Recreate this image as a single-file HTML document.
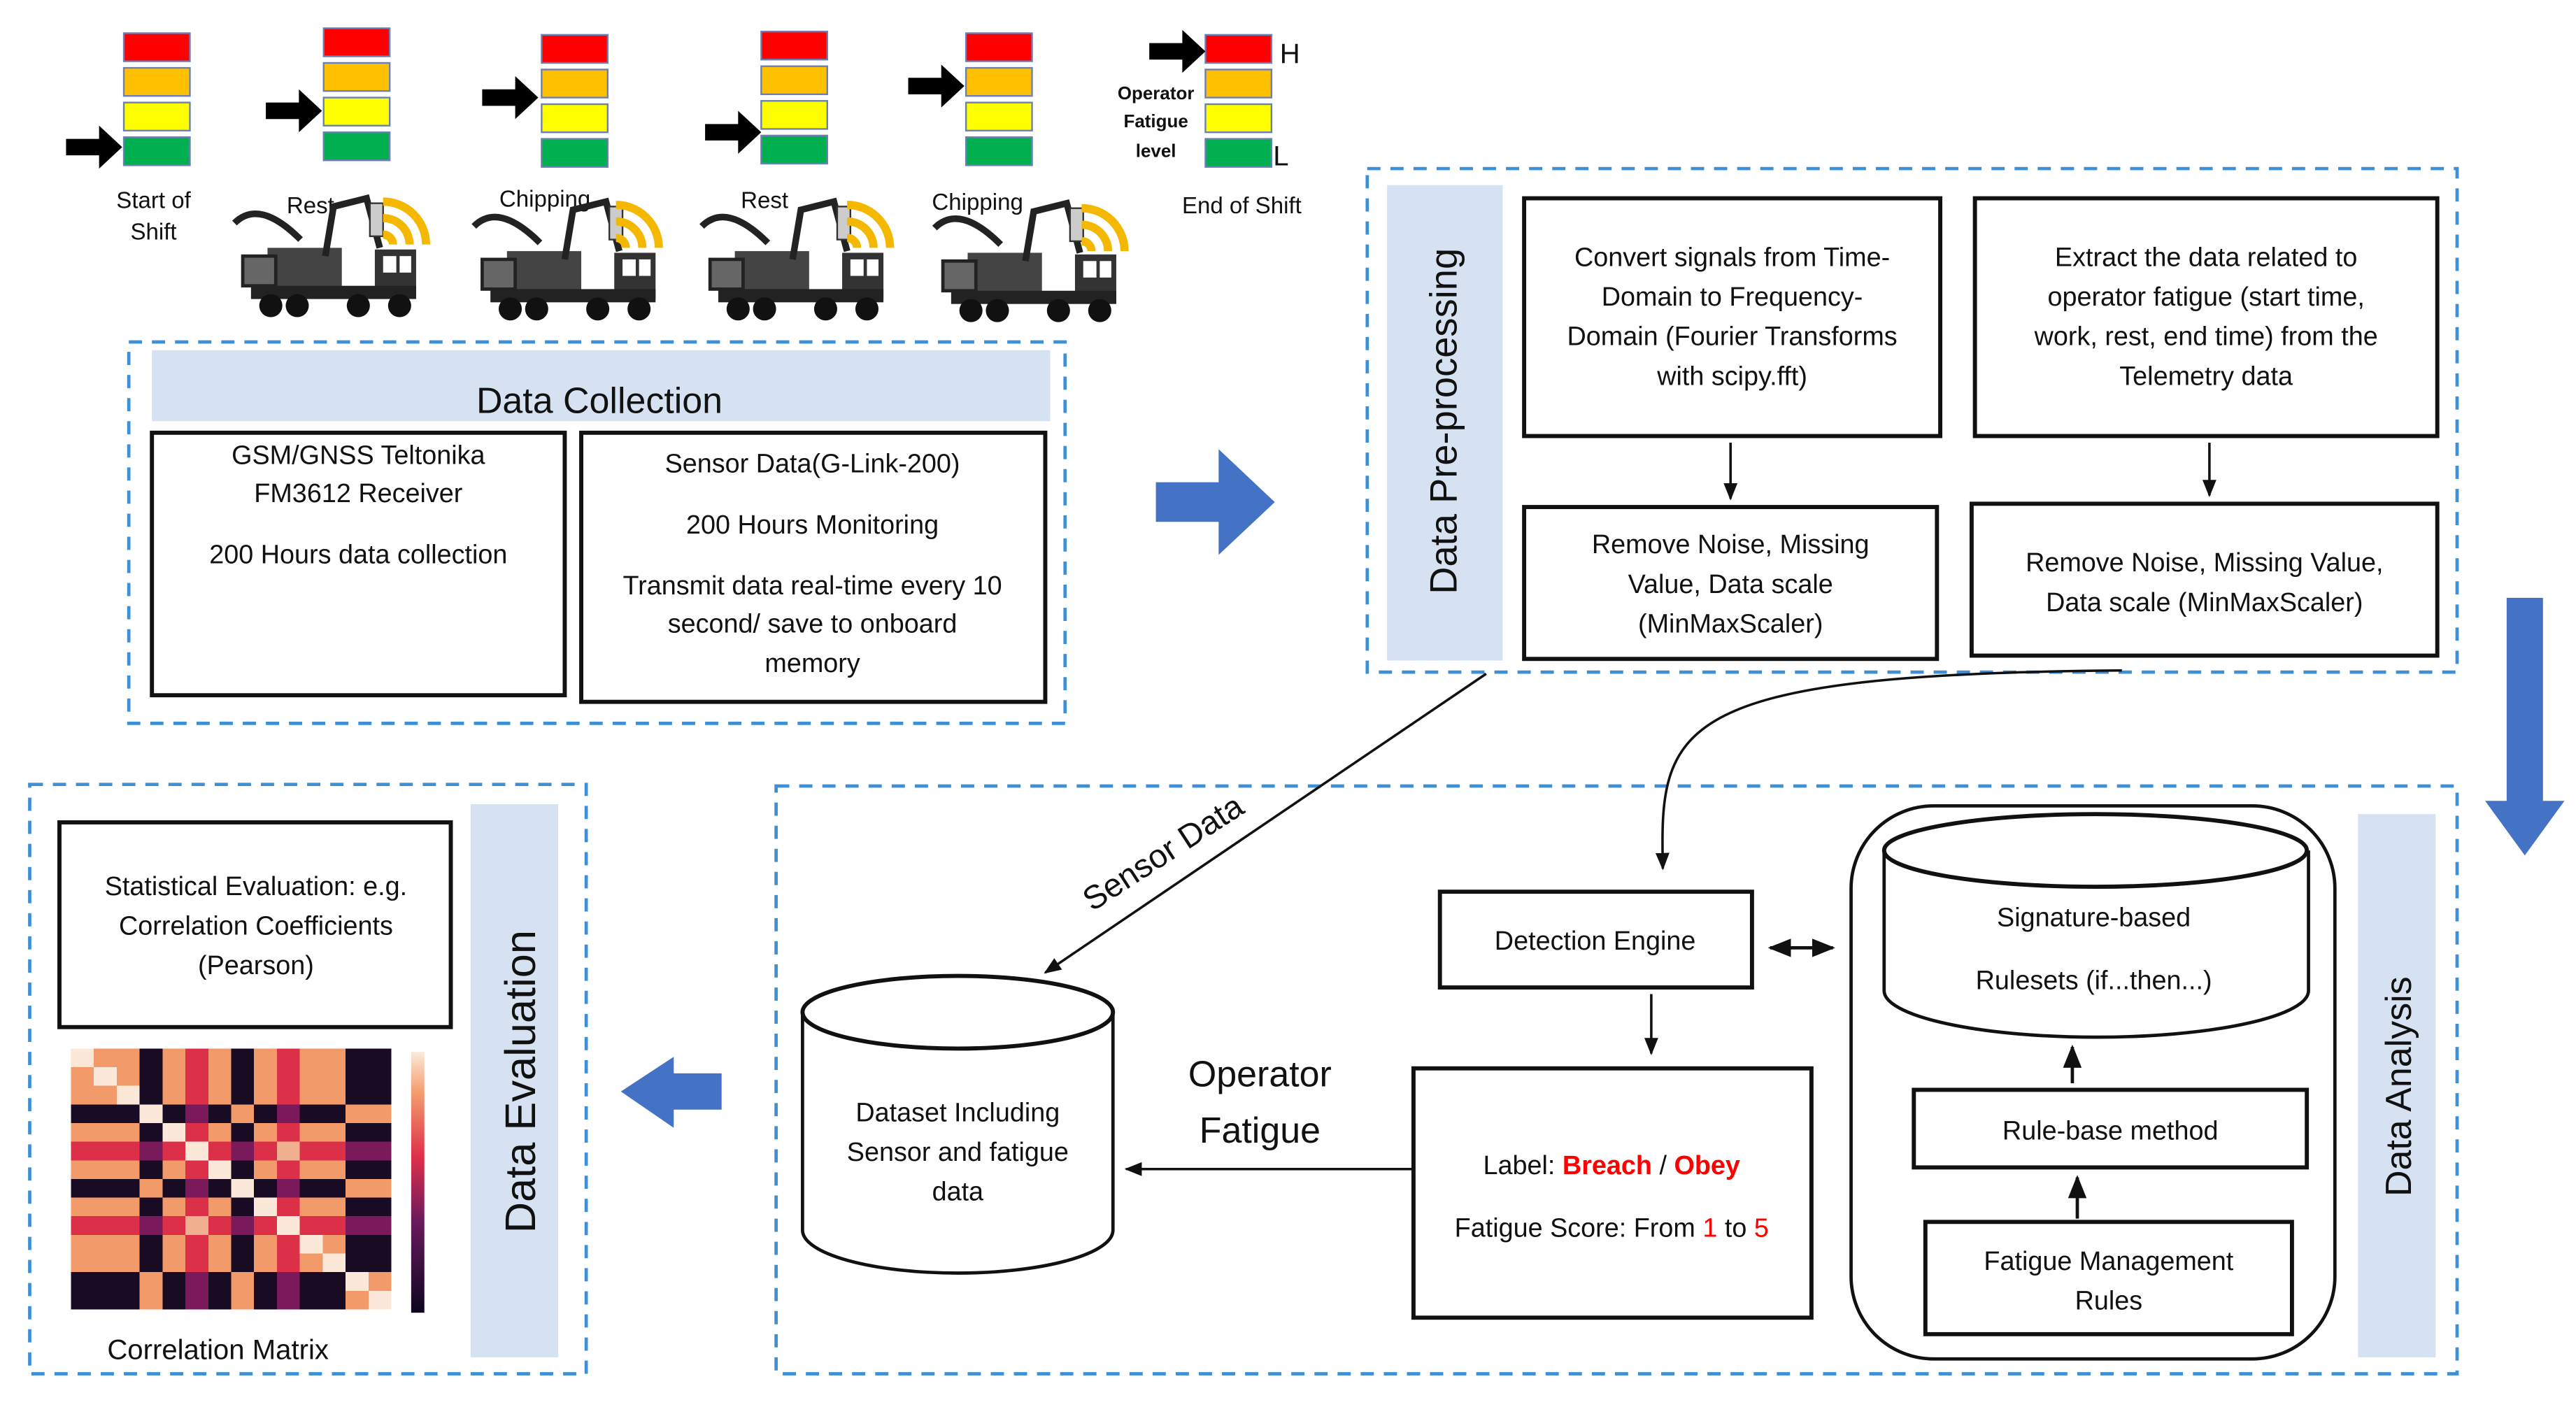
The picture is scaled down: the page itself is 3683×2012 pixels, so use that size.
<!DOCTYPE html>
<html><head><meta charset="utf-8"><style>html,body{margin:0;padding:0;background:#fff}svg{display:block}text{font-family:"Liberation Sans",sans-serif;fill:#111}</style></head>
<body>
<svg width="3683" height="2012" viewBox="0 0 1560 852" xmlns="http://www.w3.org/2000/svg">
<defs>
<marker id="ah" viewBox="0 0 10 10" refX="9" refY="5" markerWidth="7" markerHeight="7" orient="auto-start-reverse"><path d="M0,1 L10,5 L0,9 z" fill="#111"/></marker>
<g id="meter">
<rect x="0" y="0" width="40" height="17" fill="#ff0000" stroke="#6b7fb5" stroke-width="1"/>
<rect x="0" y="21" width="40" height="17" fill="#ffc000" stroke="#6b7fb5" stroke-width="1"/>
<rect x="0" y="42" width="40" height="17" fill="#ffff00" stroke="#6b7fb5" stroke-width="1"/>
<rect x="0" y="63" width="40" height="17" fill="#00b050" stroke="#6b7fb5" stroke-width="1"/>
</g>
<path id="barr" d="M0,-5 L20,-5 L20,-13 L34,0 L20,13 L20,5 L0,5 z" fill="#000"/>
<g id="truck">
<path d="M0,20 Q15,5 40,30" stroke="#222" stroke-width="4" fill="none"/>
<rect x="20" y="35" width="45" height="25" fill="#444"/>
<rect x="5" y="40" width="20" height="18" fill="#666" stroke="#222" stroke-width="2"/>
<path d="M55,40 L60,10 L80,5 L88,35" stroke="#222" stroke-width="4" fill="none"/>
<rect x="82" y="8" width="8" height="20" fill="#ccc" stroke="#333"/>
<rect x="85" y="36" width="25" height="28" fill="#333"/>
<rect x="90" y="40" width="8" height="10" fill="#fff"/><rect x="100" y="40" width="7" height="10" fill="#fff"/>
<rect x="10" y="58" width="100" height="8" fill="#222"/>
<circle cx="22" cy="70" r="7" fill="#111"/><circle cx="38" cy="70" r="7" fill="#111"/><circle cx="75" cy="70" r="7" fill="#111"/><circle cx="100" cy="70" r="7" fill="#111"/>
</g>
<g id="wifi" fill="none" stroke="#f5b800" stroke-width="5">
<path d="M0,22 A6,6 0 0 1 6,28"/><path d="M0,12 A16,16 0 0 1 16,28"/><path d="M0,2 A26,26 0 0 1 26,28"/>
</g>
<linearGradient id="cb" x1="0" y1="1" x2="0" y2="0"><stop offset="0" stop-color="#0d0520"/><stop offset="0.35" stop-color="#6a1a5e"/><stop offset="0.6" stop-color="#e0304a"/><stop offset="0.85" stop-color="#f4a070"/><stop offset="1" stop-color="#fbeadc"/></linearGradient>
</defs>

<!-- meters -->
<use href="#meter" x="75" y="20"/><use href="#barr" x="40" y="89"/>
<use href="#meter" x="196" y="17"/><use href="#barr" x="161" y="67"/>
<use href="#meter" x="328" y="21"/><use href="#barr" x="292" y="59"/>
<use href="#meter" x="461" y="19"/><use href="#barr" x="427" y="80"/>
<use href="#meter" x="585" y="20"/><use href="#barr" x="550" y="52"/>
<use href="#meter" x="730" y="21"/><use href="#barr" x="696" y="31"/>
<text x="775" y="38" font-size="17">H</text><text x="771" y="100" font-size="17">L</text>
<g font-size="11" font-weight="bold" text-anchor="middle"><text x="700" y="60">Operator</text><text x="700" y="77">Fatigue</text><text x="700" y="95">level</text></g>
<g font-size="14" text-anchor="middle">
<text x="93" y="126">Start of</text><text x="93" y="145">Shift</text>
<text x="188" y="129">Rest</text><text x="330" y="125">Chipping</text>
<text x="463" y="126">Rest</text><text x="592" y="127">Chipping</text>
<text x="752" y="129">End of Shift</text>
</g>
<use href="#truck" x="142" y="115"/><use href="#wifi" x="232" y="120"/>
<use href="#truck" x="287" y="117"/><use href="#wifi" x="373" y="122"/>
<use href="#truck" x="425" y="117"/><use href="#wifi" x="513" y="122"/>
<use href="#truck" x="566" y="118"/><use href="#wifi" x="655" y="124"/>

<!-- Data collection -->
<rect x="78" y="207" width="567" height="231" fill="none" stroke="#3d8fd6" stroke-width="2" stroke-dasharray="8,6"/>
<rect x="92" y="212" width="544" height="43" fill="#d6e2f2"/>
<text x="363" y="250" font-size="22" text-anchor="middle">Data Collection</text>
<rect x="92" y="262" width="250" height="159" fill="#fff" stroke="#111" stroke-width="2.5"/>
<rect x="352" y="262" width="281" height="163" fill="#fff" stroke="#111" stroke-width="2.5"/>
<g font-size="16" text-anchor="middle">
<text x="217" y="281">GSM/GNSS Teltonika</text><text x="217" y="304">FM3612 Receiver</text><text x="217" y="341">200 Hours data collection</text>
<text x="492" y="286">Sensor Data(G-Link-200)</text><text x="492" y="323">200 Hours Monitoring</text>
<text x="492" y="360">Transmit data real-time every 10</text><text x="492" y="383">second/ save to onboard</text><text x="492" y="407">memory</text>
</g>
<path d="M700,292 L738,292 L738,272 L772,304 L738,336 L738,316 L700,316 z" fill="#4472c4"/>

<!-- Pre-processing -->
<rect x="828" y="102" width="660" height="305" fill="none" stroke="#3d8fd6" stroke-width="2" stroke-dasharray="8,6"/>
<rect x="840" y="112" width="70" height="288" fill="#d6e2f2"/>
<text transform="translate(882,255) rotate(-90)" font-size="23" text-anchor="middle">Data Pre-processing</text>
<rect x="923" y="120" width="252" height="144" fill="#fff" stroke="#111" stroke-width="2.5"/>
<rect x="1196" y="120" width="280" height="144" fill="#fff" stroke="#111" stroke-width="2.5"/>
<rect x="923" y="307" width="250" height="92" fill="#fff" stroke="#111" stroke-width="2.5"/>
<rect x="1194" y="305" width="282" height="92" fill="#fff" stroke="#111" stroke-width="2.5"/>
<g font-size="16" text-anchor="middle">
<text x="1049" y="161">Convert signals from Time-</text><text x="1049" y="185">Domain to Frequency-</text><text x="1049" y="209">Domain (Fourier Transforms</text><text x="1049" y="233">with scipy.fft)</text>
<text x="1336" y="161">Extract the data related to</text><text x="1336" y="185">operator fatigue (start time,</text><text x="1336" y="209">work, rest, end time) from the</text><text x="1336" y="233">Telemetry data</text>
<text x="1048" y="335">Remove Noise, Missing</text><text x="1048" y="359">Value, Data scale</text><text x="1048" y="383">(MinMaxScaler)</text>
<text x="1335" y="346">Remove Noise, Missing Value,</text><text x="1335" y="370">Data scale (MinMaxScaler)</text>
</g>
<line x1="1048" y1="268" x2="1048" y2="302" stroke="#111" stroke-width="1.5" marker-end="url(#ah)"/>
<line x1="1338" y1="268" x2="1338" y2="300" stroke="#111" stroke-width="1.5" marker-end="url(#ah)"/>
<path d="M1518,362 L1540,362 L1540,485 L1553,485 L1529,518 L1505,485 L1518,485 z" fill="#4472c4"/>

<!-- Data analysis -->
<rect x="470" y="476" width="1018" height="356" fill="none" stroke="#3d8fd6" stroke-width="2" stroke-dasharray="8,6"/>
<rect x="1428" y="493" width="47" height="329" fill="#d6e2f2"/>
<text transform="translate(1460,658) rotate(-90)" font-size="22" text-anchor="middle">Data Analysis</text>
<rect x="1121" y="488" width="293" height="335" rx="50" fill="none" stroke="#111" stroke-width="2"/>
<path d="M1141,515 L1141,600 A128,28 0 0 0 1398,600 L1398,515" fill="#fff" stroke="#111" stroke-width="2"/>
<ellipse cx="1269" cy="515" rx="128" ry="22" fill="#fff" stroke="#111" stroke-width="2.5"/>
<g font-size="16" text-anchor="middle"><text x="1268" y="561">Signature-based</text><text x="1268" y="599">Rulesets (if...then...)</text></g>
<rect x="1159" y="660" width="238" height="47" fill="#fff" stroke="#111" stroke-width="2.5"/>
<text x="1278" y="690" font-size="16" text-anchor="middle">Rule-base method</text>
<rect x="1166" y="740" width="222" height="68" fill="#fff" stroke="#111" stroke-width="2.5"/>
<g font-size="16" text-anchor="middle"><text x="1277" y="769">Fatigue Management</text><text x="1277" y="793">Rules</text></g>
<line x1="1255" y1="656" x2="1255" y2="634" stroke="#111" stroke-width="2" marker-end="url(#ah)"/>
<line x1="1258" y1="738" x2="1258" y2="713" stroke="#111" stroke-width="2" marker-end="url(#ah)"/>
<rect x="872" y="540" width="189" height="58" fill="#fff" stroke="#111" stroke-width="2.5"/>
<text x="966" y="575" font-size="16" text-anchor="middle">Detection Engine</text>
<line x1="1072" y1="574" x2="1110" y2="574" stroke="#111" stroke-width="2" marker-start="url(#ah)" marker-end="url(#ah)"/>
<line x1="1000" y1="602" x2="1000" y2="638" stroke="#111" stroke-width="1.5" marker-end="url(#ah)"/>
<rect x="856" y="647" width="241" height="151" fill="#fff" stroke="#111" stroke-width="2.5"/>
<text x="976" y="711" font-size="16" text-anchor="middle">Label: <tspan fill="#ff0000" font-weight="bold">Breach</tspan> / <tspan fill="#ff0000" font-weight="bold">Obey</tspan></text>
<text x="976" y="749" font-size="16" text-anchor="middle">Fatigue Score: From <tspan fill="#ff0000">1</tspan> to <tspan fill="#ff0000">5</tspan></text>
<path d="M486,613 L486,745 A94,26 0 0 0 674,745 L674,613" fill="#fff" stroke="#111" stroke-width="2"/>
<ellipse cx="580" cy="613" rx="94" ry="22" fill="#fff" stroke="#111" stroke-width="2.5"/>
<g font-size="16" text-anchor="middle"><text x="580" y="679">Dataset Including</text><text x="580" y="703">Sensor and fatigue</text><text x="580" y="727">data</text></g>
<line x1="856" y1="708" x2="682" y2="708" stroke="#111" stroke-width="1.5" marker-end="url(#ah)"/>
<g font-size="22" text-anchor="middle"><text x="763" y="658">Operator</text><text x="763" y="692">Fatigue</text></g>
<line x1="900" y1="408" x2="633" y2="589" stroke="#111" stroke-width="1.5" marker-end="url(#ah)"/>
<text transform="translate(708,522) rotate(-33)" font-size="20" text-anchor="middle">Sensor Data</text>
<path d="M1285,406 C1010,408 1005,440 1007,526" fill="none" stroke="#111" stroke-width="1.5" marker-end="url(#ah)"/>
<path d="M437,650 L408,650 L408,640 L376,661 L408,683 L408,672 L437,672 z" fill="#4472c4"/>

<!-- Data evaluation -->
<rect x="18" y="475" width="337" height="357" fill="none" stroke="#3d8fd6" stroke-width="2" stroke-dasharray="8,6"/>
<rect x="285" y="487" width="53" height="335" fill="#d6e2f2"/>
<text transform="translate(324,655) rotate(-90)" font-size="26" text-anchor="middle">Data Evaluation</text>
<rect x="36" y="498" width="237" height="124" fill="#fff" stroke="#111" stroke-width="2.5"/>
<g font-size="16" text-anchor="middle"><text x="155" y="542">Statistical Evaluation: e.g.</text><text x="155" y="566">Correlation Coefficients</text><text x="155" y="590">(Pearson)</text></g>

<svg x="43" y="635" width="194" height="158" viewBox="0 0 14 14" preserveAspectRatio="none" shape-rendering="crispEdges">
<rect x="0" y="0" width="14" height="14" fill="#1a0b24"/>
<g fill="#f29a6a">
<rect x="0" y="0" width="3" height="3"/><rect x="4" y="0" width="1" height="3"/><rect x="6" y="0" width="1" height="3"/><rect x="8" y="0" width="1" height="3"/><rect x="10" y="0" width="2" height="3"/>
<rect x="0" y="4" width="3" height="1"/><rect x="4" y="4" width="1" height="1"/><rect x="6" y="4" width="1" height="1"/><rect x="8" y="4" width="1" height="1"/><rect x="10" y="4" width="2" height="1"/>
<rect x="0" y="6" width="3" height="1"/><rect x="4" y="6" width="1" height="1"/><rect x="6" y="6" width="1" height="1"/><rect x="8" y="6" width="1" height="1"/><rect x="10" y="6" width="2" height="1"/>
<rect x="0" y="8" width="3" height="1"/><rect x="4" y="8" width="1" height="1"/><rect x="6" y="8" width="1" height="1"/><rect x="8" y="8" width="1" height="1"/><rect x="10" y="8" width="2" height="1"/>
<rect x="0" y="10" width="3" height="2"/><rect x="4" y="10" width="1" height="2"/><rect x="6" y="10" width="1" height="2"/><rect x="8" y="10" width="1" height="2"/><rect x="10" y="10" width="2" height="2"/>
<rect x="3" y="3" width="1" height="1"/><rect x="7" y="3" width="1" height="1"/><rect x="12" y="3" width="2" height="1"/>
<rect x="3" y="7" width="1" height="1"/><rect x="7" y="7" width="1" height="1"/><rect x="12" y="7" width="2" height="1"/>
<rect x="3" y="12" width="1" height="2"/><rect x="7" y="12" width="1" height="2"/><rect x="12" y="12" width="2" height="2"/>
</g>
<g fill="#dc3048"><rect x="0" y="5" width="14" height="1"/><rect x="0" y="9" width="14" height="1"/><rect x="5" y="0" width="1" height="14"/><rect x="9" y="0" width="1" height="14"/></g>
<g fill="#7a1a5a">
<rect x="3" y="5" width="1" height="1"/><rect x="7" y="5" width="1" height="1"/><rect x="12" y="5" width="2" height="1"/>
<rect x="3" y="9" width="1" height="1"/><rect x="7" y="9" width="1" height="1"/><rect x="12" y="9" width="2" height="1"/>
<rect x="5" y="3" width="1" height="1"/><rect x="5" y="7" width="1" height="1"/><rect x="5" y="12" width="1" height="2"/>
<rect x="9" y="3" width="1" height="1"/><rect x="9" y="7" width="1" height="1"/><rect x="9" y="12" width="1" height="2"/>
</g>
<g fill="#f0b090"><rect x="5" y="9" width="1" height="1"/><rect x="9" y="5" width="1" height="1"/></g>
<g fill="#fbe8d8">
<rect x="0" y="0" width="1" height="1"/><rect x="1" y="1" width="1" height="1"/><rect x="2" y="2" width="1" height="1"/><rect x="3" y="3" width="1" height="1"/><rect x="4" y="4" width="1" height="1"/><rect x="5" y="5" width="1" height="1"/><rect x="6" y="6" width="1" height="1"/><rect x="7" y="7" width="1" height="1"/><rect x="8" y="8" width="1" height="1"/><rect x="9" y="9" width="1" height="1"/><rect x="10" y="10" width="1" height="1"/><rect x="11" y="11" width="1" height="1"/><rect x="12" y="12" width="1" height="1"/><rect x="13" y="13" width="1" height="1"/>
</g>
</svg>
<rect x="249" y="637" width="8" height="158" fill="url(#cb)"/>
<text x="132" y="823" font-size="17" text-anchor="middle">Correlation Matrix</text>
</svg>
</body></html>
